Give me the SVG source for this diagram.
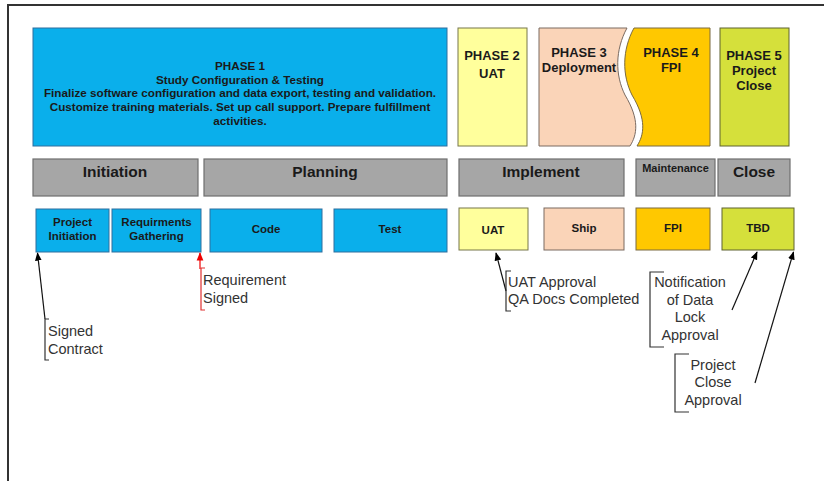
<svg xmlns="http://www.w3.org/2000/svg" width="824" height="481" viewBox="0 0 824 481">
<defs>
<style>
.b{font-family:"Liberation Sans",Arial,sans-serif;font-weight:bold;fill:#1a1a1a;text-anchor:middle}
.n{font-family:"Liberation Sans",Arial,sans-serif;font-size:14.5px;fill:#333}
.blue{fill:#0AAFEB;stroke:#2E6E9E;stroke-width:1}
.yel{fill:#FFFF9C;stroke:#77774A;stroke-width:1}
.peach{fill:#FAD4B8;stroke:#7A6A60;stroke-width:1}
.org{fill:#FFC800;stroke:#7A6A40;stroke-width:1}
.lime{fill:#D5E03B;stroke:#5E6330;stroke-width:1}
.grey{fill:#A6A6A6;stroke:#6E6E6E;stroke-width:1.2}
.ln{fill:none;stroke:#111;stroke-width:1.2}
.br{fill:none;stroke:#333;stroke-width:1.2}
</style>
<marker id="ab" viewBox="0 0 10 10" refX="9" refY="5" markerWidth="7" markerHeight="7" orient="auto"><path d="M0,1 L10,5 L0,9 z" fill="#000"/></marker>
<marker id="ar" viewBox="0 0 10 10" refX="9" refY="5" markerWidth="7" markerHeight="7" orient="auto"><path d="M0,1 L10,5 L0,9 z" fill="#e00"/></marker>
</defs>
<rect width="824" height="481" fill="#fff"/>
<path d="M8 481 V5 H824" fill="none" stroke="#333" stroke-width="2"/>

<g id="phase1"><rect class="blue" x="33" y="28" width="414" height="118"/>
<text class="b" font-size="11.7"><tspan x="240" y="70">PHASE 1</tspan><tspan x="240" y="83.5">Study Configuration &amp; Testing</tspan><tspan x="240" y="97">Finalize software configuration and data export, testing and validation.</tspan><tspan x="240" y="111">Customize training materials. Set up call support. Prepare fulfillment</tspan><tspan x="240" y="124.5">activities.</tspan></text></g>
<g id="phase2"><rect class="yel" x="458" y="28" width="69" height="118"/>
<text class="b" font-size="13"><tspan x="492" y="60">PHASE 2</tspan><tspan x="492" y="78">UAT</tspan></text></g>
<g id="phase3"><path class="peach" d="M539 28 H627 C615 50 615 75 625 95 C640 120 637 135 630 146 H539 Z"/>
<text class="b" font-size="13"><tspan x="579" y="57">PHASE 3</tspan><tspan x="579" y="72">Deployment</tspan></text></g>
<g id="phase4"><path class="org" d="M634 28 H710 V146 H637 C644 135 647 120 632 95 C622 75 622 50 634 28 Z"/>
<text class="b" font-size="13"><tspan x="671" y="57">PHASE 4</tspan><tspan x="671" y="72">FPI</tspan></text></g>
<g id="phase5"><rect class="lime" x="720" y="28" width="69" height="118"/>
<text class="b" font-size="13"><tspan x="754" y="60">PHASE 5</tspan><tspan x="754" y="75">Project</tspan><tspan x="754" y="90">Close</tspan></text></g>

<g id="initiation"><rect class="grey" x="33" y="159" width="165" height="37"/><text class="b" font-size="15.5" x="115" y="177">Initiation</text></g>
<g id="planning"><rect class="grey" x="204" y="159" width="243" height="37"/><text class="b" font-size="15.5" x="325" y="177">Planning</text></g>
<g id="implement"><rect class="grey" x="459" y="159" width="165" height="37"/><text class="b" font-size="15.5" x="541" y="177">Implement</text></g>
<g id="maintenance"><rect class="grey" x="636" y="159" width="79" height="37"/><text class="b" font-size="11" x="675.5" y="172">Maintenance</text></g>
<g id="close"><rect class="grey" x="718" y="159" width="72" height="37"/><text class="b" font-size="15.5" x="754" y="177">Close</text></g>

<g id="projinit"><rect class="blue" x="36" y="209" width="73" height="43"/><text class="b" font-size="11.5"><tspan x="72.5" y="226">Project</tspan><tspan x="72.5" y="240">Initiation</tspan></text></g>
<g id="reqgath"><rect class="blue" x="112" y="209" width="89" height="43"/><text class="b" font-size="11.5"><tspan x="156.5" y="226">Requirments</tspan><tspan x="156.5" y="240">Gathering</tspan></text></g>
<g id="code"><rect class="blue" x="210" y="209" width="112" height="43"/><text class="b" font-size="11.5" x="266" y="233">Code</text></g>
<g id="test"><rect class="blue" x="334" y="209" width="113" height="43"/><text class="b" font-size="11.5" x="390" y="233">Test</text></g>
<g id="uat"><rect class="yel" x="459" y="208" width="69" height="42"/><text class="b" font-size="11.5" x="493" y="234">UAT</text></g>
<g id="ship"><rect class="peach" x="544" y="208" width="80" height="42"/><text class="b" font-size="11.5" x="584" y="232">Ship</text></g>
<g id="fpi"><rect class="org" x="636" y="208" width="74" height="42"/><text class="b" font-size="11.5" x="673" y="232">FPI</text></g>
<g id="tbd"><rect class="lime" x="722" y="208" width="72" height="42"/><text class="b" font-size="11.5" x="758" y="232">TBD</text></g>

<g id="connectors">
<line class="ln" x1="45" y1="319" x2="37.5" y2="253" marker-end="url(#ab)"/>
<line x1="200" y1="269" x2="200" y2="253" stroke="#e00" stroke-width="1.2" marker-end="url(#ar)"/>
<line class="ln" x1="506" y1="291" x2="496" y2="253" marker-end="url(#ab)"/>
<line class="ln" x1="732" y1="310" x2="757" y2="252" marker-end="url(#ab)"/>
<line class="ln" x1="755" y1="383" x2="793.5" y2="252" marker-end="url(#ab)"/>
</g>

<g id="signed-contract"><path class="br" d="M49 319 H45 V360 H49"/><text class="n"><tspan x="48" y="336">Signed</tspan><tspan x="48" y="354">Contract</tspan></text></g>
<g id="req-signed"><path d="M205 268 H201 V310 H205" fill="none" stroke="#e03030" stroke-width="1.2"/><text class="n"><tspan x="203" y="285">Requirement</tspan><tspan x="203" y="303">Signed</tspan></text></g>
<g id="uat-approval"><path class="br" d="M511 271 H506 V311 H511"/><text class="n"><tspan x="508" y="287">UAT Approval</tspan><tspan x="508" y="304">QA Docs Completed</tspan></text></g>
<g id="notification"><path class="br" d="M664 272 H650 V347 H664"/><text class="n" text-anchor="middle"><tspan x="690" y="287">Notification</tspan><tspan x="690" y="305">of Data</tspan><tspan x="690" y="322">Lock</tspan><tspan x="690" y="340">Approval</tspan></text></g>
<g id="close-approval"><path class="br" d="M689 354 H675 V412 H689"/><text class="n" text-anchor="middle"><tspan x="713" y="370">Project</tspan><tspan x="713" y="387">Close</tspan><tspan x="713" y="405">Approval</tspan></text></g>
</svg>
